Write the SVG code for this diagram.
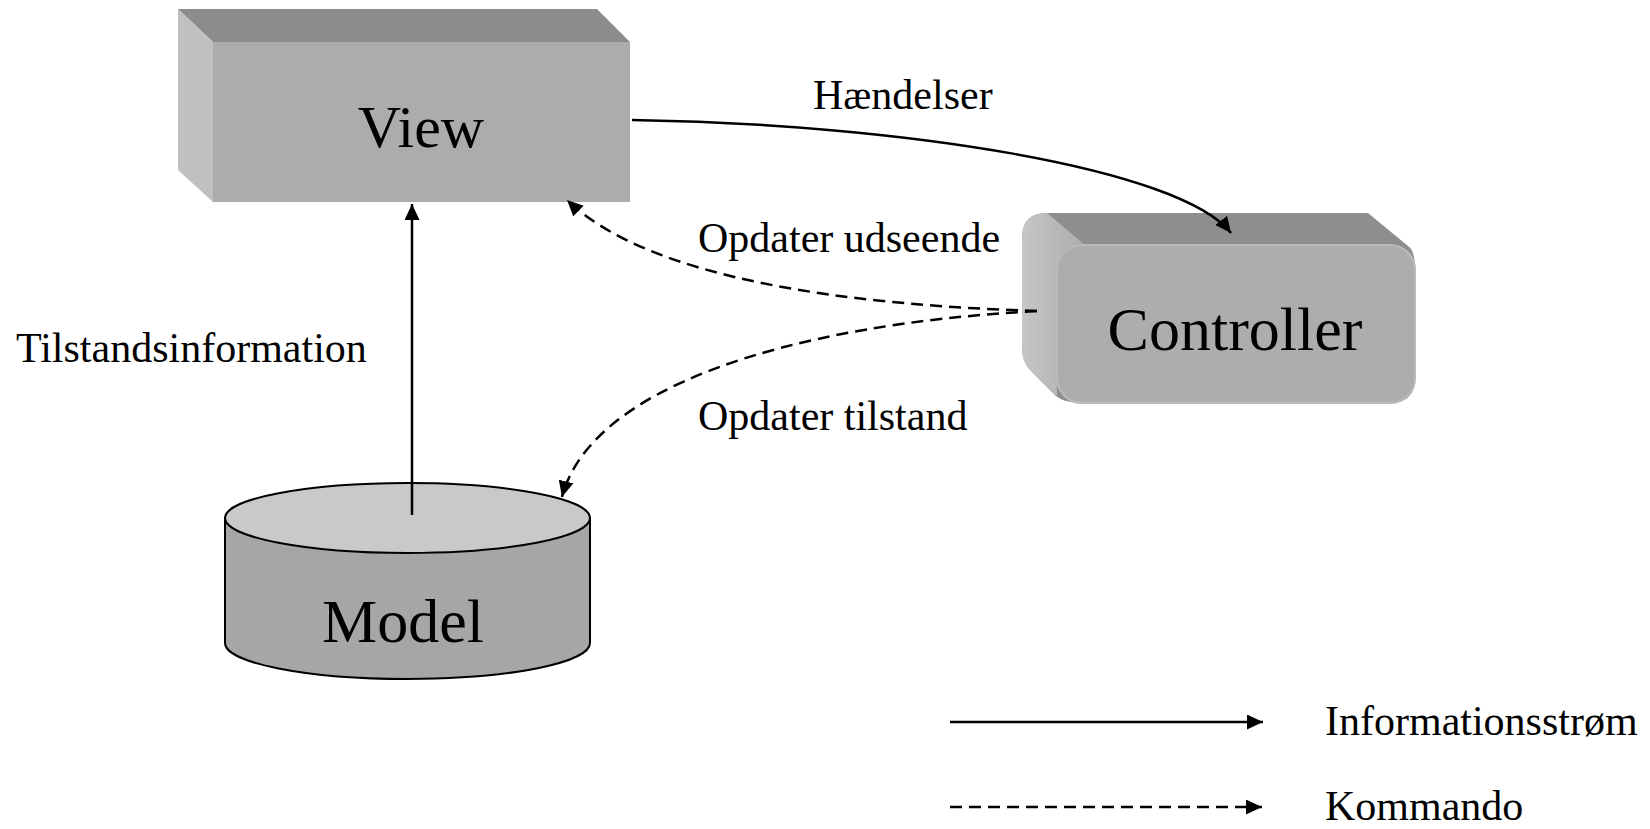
<svg xmlns="http://www.w3.org/2000/svg" width="1650" height="829" viewBox="0 0 1650 829">
<style>
.lbl{font-family:"Liberation Serif","Times New Roman",serif;font-size:42px;fill:#000}
.big{font-family:"Liberation Serif","Times New Roman",serif;fill:#000;text-anchor:middle}
.solid{fill:none;stroke:#000;stroke-width:2.5}
.dash{fill:none;stroke:#000;stroke-width:2.5;stroke-dasharray:12 7}
</style>
<defs>
<marker id="arr" markerUnits="userSpaceOnUse" markerWidth="18" markerHeight="16" refX="16" refY="7.5" orient="auto">
<path d="M0,0 L16,7.5 L0,15 z" fill="#000"/>
</marker>
<linearGradient id="cleft" x1="0" y1="0" x2="1" y2="0">
<stop offset="0" stop-color="#c6c6c6"/>
<stop offset="1" stop-color="#acacac"/>
</linearGradient>
</defs>
<rect width="1650" height="829" fill="#fff"/>

<g id="view">
<polygon points="178,9 597,9 630,42 213,42" fill="#8c8c8c"/>
<polygon points="178,9 213,42 213,202 178,170" fill="#c0c0c0"/>
<rect x="213" y="42" width="417" height="160" fill="#acacac"/>
<text class="big" x="421" y="147" font-size="60">View</text>
</g>

<g id="controller">
<path d="M1022,238 Q1022,213 1047,213 L1368,213 L1408,246 Q1415,250 1415,270 L1415,378 Q1415,403 1390,403 L1082,403 Q1064,403 1056,396 L1030,370 Q1022,362 1022,346 Z" fill="#8e8e8e"/>
<path d="M1022,238 Q1022,213 1047,213 L1085,245 Q1057,245 1057,270 L1057,396 L1030,370 Q1022,362 1022,346 Z" fill="url(#cleft)"/>
<rect x="1057" y="245" width="358" height="158" rx="25" ry="25" fill="#adadad" stroke="#bababa" stroke-width="2"/>
<text class="big" x="1235" y="350" font-size="62">Controller</text>
</g>

<g id="model">
<path d="M225,518 L225,643 A182.5,36 0 0 0 590,643 L590,518 Z" fill="#a6a6a6" stroke="#000" stroke-width="2"/>
<ellipse cx="407.5" cy="518" rx="182.5" ry="35" fill="#c9c9c9" stroke="#000" stroke-width="2"/>
<text class="big" x="403" y="642" font-size="62">Model</text>
</g>

<g id="connectors">
<path class="solid" d="M632,120 C900,124 1180,168 1231,233" marker-end="url(#arr)"/>
<path class="dash" d="M1037,311 C850,305 650,280 567,200" marker-end="url(#arr)"/>
<path class="dash" d="M1037,311 C780,325 590,390 562,497" marker-end="url(#arr)"/>
<path class="solid" d="M412,515 L412,204" marker-end="url(#arr)"/>
</g>

<g id="labels">
<text class="lbl" x="813" y="109">Hændelser</text>
<text class="lbl" x="698" y="252">Opdater udseende</text>
<text class="lbl" x="698" y="430">Opdater tilstand</text>
<text class="lbl" x="16" y="362">Tilstandsinformation</text>
</g>

<g id="legend">
<path class="solid" d="M950,722 L1263,722" marker-end="url(#arr)"/>
<path class="dash" d="M950,807 L1262,807" marker-end="url(#arr)"/>
<text class="lbl" x="1325" y="735">Informationsstrøm</text>
<text class="lbl" x="1325" y="820">Kommando</text>
</g>
</svg>
